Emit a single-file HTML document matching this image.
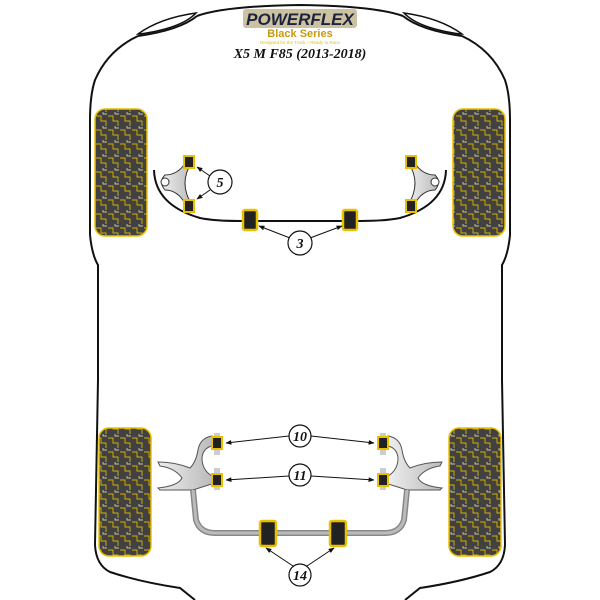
<!DOCTYPE html>
<html><head><meta charset="utf-8"><style>html,body{margin:0;padding:0;background:#fff}svg{display:block}</style></head><body>
<svg width="600" height="600" viewBox="0 0 600 600" xmlns="http://www.w3.org/2000/svg">
<defs>
<pattern id="tp" width="12" height="14" patternUnits="userSpaceOnUse">
<rect width="12" height="14" fill="#414141"/>
<path d="M0 4h5v5h5v5" fill="none" stroke="#d9b400" stroke-width="0.9"/>
<path d="M7 0v2h4" fill="none" stroke="#cfc6a0" stroke-width="0.9"/>
</pattern>
<marker id="ar" viewBox="0 0 10 10" refX="9" refY="5" markerWidth="6" markerHeight="6" orient="auto"><path d="M0 1L10 5L0 9z" fill="#111"/></marker>
<linearGradient id="gr" x1="0" x2="1"><stop offset="0" stop-color="#eee"/><stop offset="1" stop-color="#bbb"/></linearGradient>
<g id="bush"><rect x="-5" y="-6" width="10" height="12" fill="#222" stroke="#e8c000" stroke-width="2"/></g>
<g id="bigbush"><rect x="-7" y="-10" width="14" height="20" rx="2" fill="#222" stroke="#e8c000" stroke-width="2.5"/></g>
</defs>
<!-- body -->
<g fill="none" stroke="#111" stroke-width="2">
<path d="M197 16 Q225 6 300 5 Q375 6 403 16"/>
<path d="M138 36 Q108 50 95 80 Q90 95 90 120 L90 235 Q92 255 98 265 L98 380 L95 545 Q96 565 110 572 Q140 582 180 588 L195 600"/>
<path d="M462 36 Q492 50 505 80 Q510 95 510 120 L510 235 Q508 255 502 265 L502 380 L505 545 Q504 565 490 572 Q460 582 420 588 L405 600"/>
<path d="M138 34 Q160 18 196 13 Q182 28 140 34 Z" stroke-width="1.5"/>
<path d="M462 34 Q440 18 404 13 Q418 28 460 34 Z" stroke-width="1.5"/>
<path d="M197 16 Q180 30 138 36"/><path d="M403 16 Q420 30 462 36"/>
</g>
<!-- logo -->
<rect x="243" y="9" width="114" height="19" rx="3" fill="#b8a878" opacity="0.7"/>
<text x="300" y="25" text-anchor="middle" font-family="Liberation Sans, sans-serif" font-weight="bold" font-style="italic" font-size="17" fill="#1c2340">POWERFLEX</text>
<text x="300" y="37" text-anchor="middle" font-family="Liberation Sans, sans-serif" font-weight="bold" font-size="11" fill="#c89a10">Black Series</text>
<text x="300" y="44" text-anchor="middle" font-family="Liberation Sans, sans-serif" font-size="4.5" fill="#e0c020">Designed for the Track – Ready to Race</text>
<text x="300" y="58" text-anchor="middle" font-family="Liberation Serif, serif" font-weight="bold" font-style="italic" font-size="14" fill="#111">X5 M F85 (2013-2018)</text>
<!-- tires -->
<g fill="url(#tp)" stroke="#e8c000" stroke-width="1.5">
<rect x="95" y="109" width="52" height="127" rx="10"/>
<rect x="453" y="109" width="52" height="127" rx="10"/>
<rect x="99" y="428" width="52" height="128" rx="10"/>
<rect x="449" y="428" width="52" height="128" rx="10"/>
</g>
<!-- front bar -->
<path d="M154 170 Q155 205 200 218 Q215 221 240 221 L360 221 Q385 221 400 218 Q445 205 446 170" fill="none" stroke="#111" stroke-width="2"/>
<!-- front wishbones -->
<path d="M186 162 Q178 175 165 175 Q158 182 165 190 Q178 190 186 205 L192 205 Q178 183 192 162 Z" fill="url(#gr)" stroke="#333" stroke-width="1"/>
<circle cx="165" cy="182" r="4" fill="#fff" stroke="#333"/>
<path d="M414 162 Q422 175 435 175 Q442 182 435 190 Q422 190 414 205 L408 205 Q422 183 408 162 Z" fill="url(#gr)" stroke="#333" stroke-width="1"/>
<circle cx="435" cy="182" r="4" fill="#fff" stroke="#333"/>
<use href="#bush" x="189" y="162"/><use href="#bush" x="189" y="206"/>
<use href="#bush" x="411" y="162"/><use href="#bush" x="411" y="206"/>
<use href="#bigbush" x="250" y="220"/><use href="#bigbush" x="350" y="220"/>
<!-- rear arms -->
<path d="M212 436 Q200 438 198 450 Q196 462 190 468 Q175 462 158 462 L160 466 Q175 468 182 478 Q178 486 158 488 L160 490 L193 490 Q205 486 212 484 L212 476 Q202 470 202 458 Q203 448 212 446 Z" fill="url(#gr)" stroke="#555" stroke-width="1"/>
<path d="M388 436 Q400 438 402 450 Q404 462 410 468 Q425 462 442 462 L440 466 Q425 468 418 478 Q422 486 442 488 L440 490 L407 490 Q395 486 388 484 L388 476 Q398 470 398 458 Q397 448 388 446 Z" fill="url(#gr)" stroke="#555" stroke-width="1"/>
<path d="M193 490 L196 520 Q200 533 215 533 L385 533 Q400 533 404 520 L407 490" fill="none" stroke="#888" stroke-width="6"/>
<path d="M193 490 L196 520 Q200 533 215 533 L385 533 Q400 533 404 520 L407 490" fill="none" stroke="#bbb" stroke-width="3"/>
<g fill="#ccc"><rect x="214" y="433" width="6" height="22"/><rect x="214" y="468" width="6" height="22"/><rect x="380" y="433" width="6" height="22"/><rect x="380" y="468" width="6" height="22"/></g>
<use href="#bush" x="217" y="443"/><use href="#bush" x="217" y="480"/>
<use href="#bush" x="383" y="443"/><use href="#bush" x="383" y="480"/>
<rect x="260" y="521" width="16" height="25" rx="2" fill="#222" stroke="#e8c000" stroke-width="2.5"/>
<rect x="330" y="521" width="16" height="25" rx="2" fill="#222" stroke="#e8c000" stroke-width="2.5"/>
<!-- arrows -->
<g stroke="#111" stroke-width="1" marker-end="url(#ar)">
<line x1="210" y1="176" x2="197" y2="167"/><line x1="210" y1="190" x2="197" y2="199"/>
<line x1="290" y1="238" x2="259" y2="226"/><line x1="310" y1="238" x2="342" y2="226"/>
<line x1="289" y1="436" x2="226" y2="443"/><line x1="311" y1="436" x2="374" y2="443"/>
<line x1="289" y1="476" x2="226" y2="480"/><line x1="311" y1="476" x2="374" y2="480"/>
<line x1="293" y1="566" x2="266" y2="548"/><line x1="307" y1="566" x2="334" y2="548"/>
</g>
<!-- circles -->
<g fill="#fff" stroke="#111" stroke-width="1.2">
<circle cx="220" cy="182" r="12"/><circle cx="300" cy="243" r="12"/>
<circle cx="300" cy="436" r="11"/><circle cx="300" cy="475" r="11"/><circle cx="300" cy="575" r="11"/>
</g>
<g font-family="Liberation Serif, serif" font-weight="bold" font-style="italic" font-size="14" text-anchor="middle" fill="#111">
<text x="220" y="187">5</text><text x="300" y="248">3</text>
<text x="300" y="441">10</text><text x="300" y="480">11</text><text x="300" y="580">14</text>
</g>
</svg>
</body></html>
